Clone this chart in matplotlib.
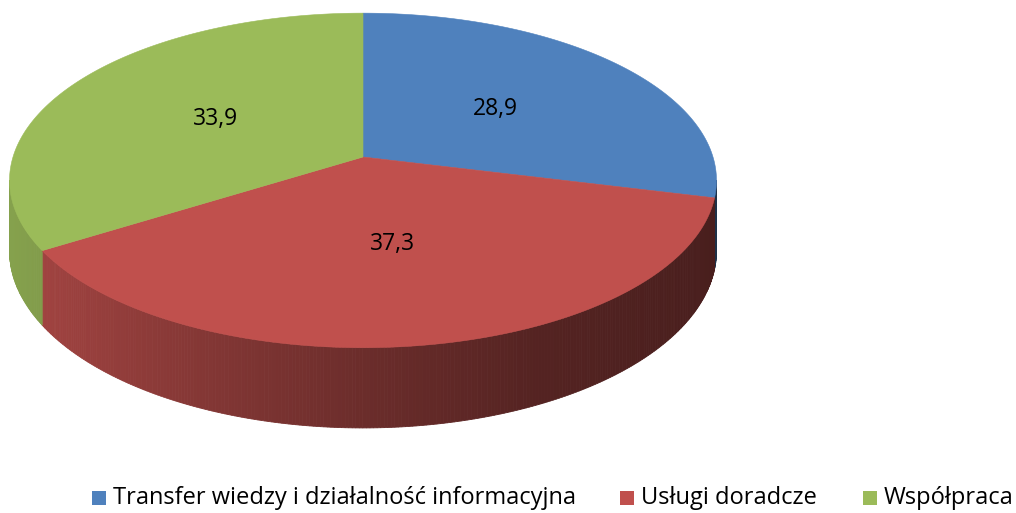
import numpy as np
import matplotlib
matplotlib.use("Agg")
import matplotlib.pyplot as plt
from matplotlib.patches import Polygon, Rectangle
from matplotlib.colors import to_rgb

# data
categories = ["Transfer wiedzy i działalność informacyjna", "Usługi doradcze", "Współpraca"]
values = [28.9, 37.3, 33.9]
value_labels = ["28,9", "37,3", "33,9"]
colors = ["#4F81BD", "#C0504D", "#9BBB59"]

# layout (pixel space)
W, H = 1016, 513
CX, CY = 363, 157        # projected centre of the top face
RX, RZ = 350, 164        # horizontal / depth radius
K = 0.14                 # perspective strength
DEPTH = 69               # pie thickness
FONT = "Open Sans"


def project(phi, r=1.0, drop=0.0):
    """phi measured clockwise from 12 o'clock (far side)."""
    z = -r * np.cos(phi)
    s = 1.0 / (1.0 - K * z)
    return CX + RX * r * np.sin(phi) * s, CY + (RZ * z + drop) * s


def wall_shade(x):
    u = (x - CX) / RX
    return np.interp(u, [-1, -0.5, 0, 0.5, 1], [0.86, 0.70, 0.56, 0.44, 0.38])


fig = plt.figure(figsize=(W / 100, H / 100), dpi=100)
ax = fig.add_axes([0, 0, 1, 1])
ax.set_xlim(0, W); ax.set_ylim(H, 0)
ax.axis("off")

fracs = np.array(values) / sum(values)
edges = np.concatenate([[0], np.cumsum(fracs)]) * 2 * np.pi

# side walls (only the front-facing part)
vis0 = np.arccos(-K)
vis1 = 2 * np.pi - vis0
for i, col in enumerate(colors):
    a0, a1 = max(edges[i], vis0), min(edges[i + 1], vis1)
    if a1 <= a0:
        continue
    n = max(2, int(np.degrees(a1 - a0) / 0.5))
    ts = np.linspace(a0, a1, n + 1)
    base = np.array(to_rgb(col))
    for t0, t1 in zip(ts[:-1], ts[1:]):
        xa, ya = project(t0)
        xb, yb = project(t1)
        xc, yc = project(t1, drop=DEPTH)
        xd, yd = project(t0, drop=DEPTH)
        c = base * wall_shade((xa + xb) / 2)
        ax.add_patch(Polygon([(xa, ya), (xb, yb), (xc, yc), (xd, yd)],
                             closed=True, fc=c, ec=c, lw=0.6))

# top faces
for i, col in enumerate(colors):
    ts = np.linspace(edges[i], edges[i + 1], 200)
    xs, ys = project(ts)
    pts = [(CX, CY)] + list(zip(xs, ys))
    ax.add_patch(Polygon(pts, closed=True, fc=col, ec=col, lw=0.4))

# value labels
for i, lab in enumerate(value_labels):
    mid = (edges[i] + edges[i + 1]) / 2
    lx, ly = project(mid, r=0.5)
    ax.text(lx, ly, lab, ha="center", va="center", fontsize=16.5,
            family=FONT, color="black")

# legend
leg_x = [92, 620, 863]
leg_y = 498
for x0, col, name in zip(leg_x, colors, categories):
    ax.add_patch(Rectangle((x0, leg_y - 7), 14, 14, fc=col, ec="none"))
    ax.text(x0 + 21, leg_y, name, ha="left", va="center", fontsize=17,
            family=FONT, color="black")

fig.savefig("out.png", dpi=100)
